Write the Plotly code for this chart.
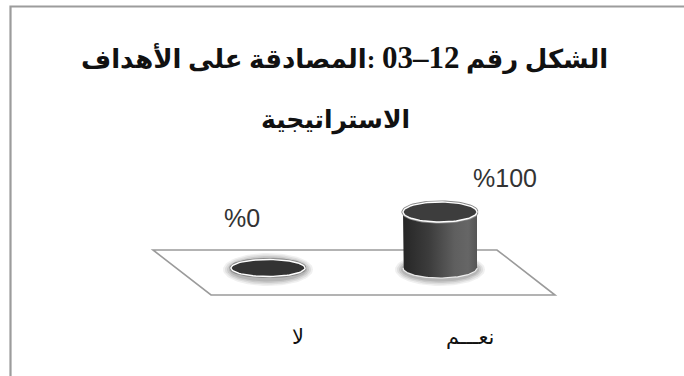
import numpy as np
import plotly.graph_objects as go

# ---- data ----
categories = ["لا", "نعـــم"]          # display order, left to right
values = [0, 100]                     # percent
value_labels = ["%0", "%100"]
title_part_a = "الشكل رقم "
title_number = "12–03"
title_part_b = " :المصادقة على الأهداف"
title_line2 = "الاستراتيجية"

# ---- geometry / style (pixel based scale) ----
W, H = 684, 376
PX_PER_CAT = 172.0          # pixels between categories
PX_PER_UNIT = 0.56          # pixels per percent
X0_PX = 268.0               # pixel x of first category
BASE_PX = 268.0             # pixel y of the zero level
x_range = [-X0_PX / PX_PER_CAT, (W - X0_PX) / PX_PER_CAT]
y_range = [-(H - BASE_PX) / PX_PER_UNIT, BASE_PX / PX_PER_UNIT]

RX = 37.0 / PX_PER_CAT      # cylinder half width (x units)
RY = 10.0 / PX_PER_UNIT     # ellipse half height (y units)

RLE, PDF = "\u202B", "\u202C"

def ell(cx, cy, rx, ry, t0, t1, n=80):
    t = np.linspace(t0, t1, n)
    return cx + rx * np.cos(t), cy + ry * np.sin(t)

fig = go.Figure()

# floor parallelogram (decoration) in axis units
fl_top = 18 / PX_PER_UNIT
fl_bot = -27 / PX_PER_UNIT
floor_x = [-115 / PX_PER_CAT, 229 / PX_PER_CAT, 287 / PX_PER_CAT, -57 / PX_PER_CAT]
floor_y = [fl_top, fl_top, fl_bot, fl_bot]
path = "M {} {} L {} {} L {} {} L {} {} Z".format(
    floor_x[0], floor_y[0], floor_x[1], floor_y[1],
    floor_x[2], floor_y[2], floor_x[3], floor_y[3])
fig.add_shape(type="path", path=path, xref="x", yref="y",
              line=dict(color="#9b9b9b", width=1.6), fillcolor="white", layer="below")

for i, v in enumerate(values):
    cx = i
    base = 0.0
    top = v
    # soft shadow around base
    for k, (dpx, dpy, a) in enumerate([(8, 6.5, 0.10), (6, 5, 0.14), (4, 3.5, 0.18), (2, 2, 0.22)]):
        xs, ys = ell(cx, base - 1.5 / PX_PER_UNIT, RX + dpx / PX_PER_CAT, RY + dpy / PX_PER_UNIT, 0, 2 * np.pi)
        fig.add_trace(go.Scatter(x=xs, y=ys, mode="lines", fill="toself",
                                 fillcolor=f"rgba(110,110,110,{a})", line=dict(width=0),
                                 hoverinfo="skip", showlegend=False))
    # body
    if v > 0:
        bx_arc, by_arc = ell(cx, base, RX, RY, np.pi, 2 * np.pi)
        tx_arc, ty_arc = ell(cx, top, RX, RY, 2 * np.pi, np.pi)
        bx = np.concatenate([[cx - RX], bx_arc, [cx + RX], tx_arc])
        by = np.concatenate([[top], by_arc, [top], ty_arc])
        fig.add_trace(go.Scatter(
            x=bx, y=by, mode="lines", fill="toself", line=dict(width=0),
            fillgradient=dict(type="horizontal", start=cx - RX, stop=cx + RX,
                              colorscale=[[0, "#262626"], [0.35, "#3c3c3c"],
                                          [0.7, "#5f5f5f"], [0.88, "#666666"], [1, "#555555"]]),
            hoverinfo="skip", showlegend=False))
        fig.add_trace(go.Scatter(x=bx_arc, y=by_arc, mode="lines",
                                 line=dict(color="rgba(255,255,255,0.85)", width=1.2),
                                 hoverinfo="skip", showlegend=False))
    # top face
    xs, ys = ell(cx, top, RX, RY if v > 0 else RY * 0.85, 0, 2 * np.pi)
    fig.add_trace(go.Scatter(x=xs, y=ys, mode="lines", line=dict(color="#8a8a8a", width=3.2),
                             hoverinfo="skip", showlegend=False))
    fig.add_trace(go.Scatter(x=xs, y=ys, mode="lines", fill="toself",
                             fillcolor="#3d3d3d" if v > 0 else "#333333",
                             line=dict(color="white", width=1.4),
                             hoverinfo="skip", showlegend=False))

# value labels
label_xshift = [-26, 65]
label_yshift = [50, 34]
for i, (v, t) in enumerate(zip(values, value_labels)):
    fig.add_annotation(x=i, y=v, text=t, showarrow=False, xshift=label_xshift[i],
                       yshift=label_yshift[i], xanchor="center", yanchor="middle",
                       font=dict(family="Liberation Sans, Arial", size=25, color="#333333"))

# category labels
for i, c in enumerate(categories):
    fig.add_annotation(x=i, y=0, text=c, showarrow=False, xshift=30, yshift=-69,
                       xanchor="center", yanchor="middle",
                       font=dict(family="DejaVu Sans, Liberation Sans", size=21, color="#111111"))

# title (right-to-left paragraph)
title_html = ("<b>" + RLE + title_part_a + '<span style="font-size:31px">' + title_number + "</span>"
              + title_part_b + PDF + "</b>")
fig.add_annotation(x=344 / W, y=1 - 57 / H, xref="paper", yref="paper",
                   text=title_html,
                   showarrow=False, xanchor="center", yanchor="middle",
                   font=dict(family="Liberation Serif, DejaVu Serif, DejaVu Sans", size=26, color="#111111"))
fig.add_annotation(x=335 / W, y=1 - 120 / H, xref="paper", yref="paper",
                   text="<b>" + RLE + title_line2 + PDF + "</b>",
                   showarrow=False, xanchor="center", yanchor="middle",
                   font=dict(family="Liberation Serif, DejaVu Serif, DejaVu Sans", size=25, color="#111111"))

# outer frame (only top and left visible in reference)
fig.add_shape(type="rect", xref="paper", yref="paper", x0=10.5 / W, x1=1.05, y0=-0.05, y1=1 - 6.5 / H,
              line=dict(color="#9c9c9c", width=2.2), fillcolor="rgba(0,0,0,0)", layer="above")

fig.update_layout(
    width=W, height=H, margin=dict(l=0, r=0, t=0, b=0),
    paper_bgcolor="white", plot_bgcolor="white", showlegend=False,
    xaxis=dict(range=x_range, visible=False, fixedrange=True),
    yaxis=dict(range=y_range, visible=False, fixedrange=True),
)

fig.write_html("out.html")
